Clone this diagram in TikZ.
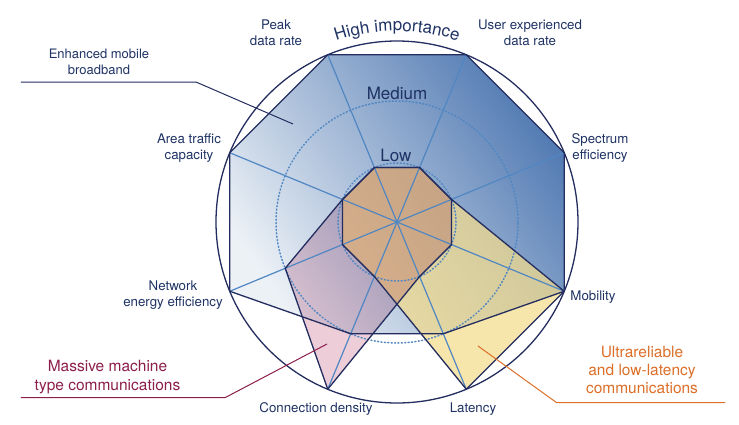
\documentclass[tikz,border=0pt]{standalone}
\usepackage{fontspec}
\setmainfont{TeX Gyre Heros}
\usepackage{xcolor}
\usepackage{tikz}
\usetikzlibrary{decorations.text}

\definecolor{navy}{RGB}{30,50,100}
\definecolor{edgeblue}{RGB}{35,45,95}
\definecolor{spokeblue}{RGB}{80,135,195}
\definecolor{embblight}{RGB}{236,241,246}
\definecolor{embbmid}{RGB}{165,188,216}
\definecolor{embbdark}{RGB}{84,124,180}
\definecolor{mmtcpink}{RGB}{236,205,216}
\definecolor{urllcyellow}{RGB}{244,220,140}
\definecolor{mmtcred}{RGB}{140,30,75}
\definecolor{urllcorange}{RGB}{220,110,40}

\newcommand{\hifont}{\fontsize{17}{17}\selectfont}
\newcommand{\embbshape}{(peakH) -- (userH) -- (specH) -- (mobH) -- (latM) -- (connM) -- (netH) -- (areaH) -- cycle}
\newcommand{\mmtcshape}{(peakL) -- (userL) -- (specL) -- (mobL) -- (latL) -- (connH) -- (netM) -- (areaL) -- cycle}
\newcommand{\urllcshape}{(peakL) -- (userL) -- (specL) -- (mobH) -- (latH) -- (connL) -- (netL) -- (areaL) -- cycle}

\begin{document}
\begin{tikzpicture}[
  x=1pt, y=1pt,
  outline/.style={draw=edgeblue, line width=1.3pt, line join=round},
  spoke/.style={draw=spokeblue, line width=1.2pt},
  levelring/.style={draw=spokeblue, line width=1.5pt, line cap=round, dash pattern=on 1pt off 2.4pt},
  axislabel/.style={font=\fontsize{13.3}{16.5}\selectfont, text=navy, align=center},
  levellabel/.style={font=\hifont, text=navy},
  servicelabel/.style={font=\fontsize{15.5}{18.3}\selectfont, align=center}
]
\useasboundingbox (-397,-202) rectangle (342,222);

\coordinate (o) at (0,0);
\foreach \n/\a in {spec/22.5, user/67.5, peak/112.5, area/157.5, net/202.5, conn/247.5, lat/292.5, mob/337.5} {
  \coordinate (\n H) at (\a:181pt);
  \coordinate (\n M) at (\a:121pt);
  \coordinate (\n L) at (\a:59pt);
}

% service areas
\shade[top color=embbdark, middle color=embbmid, bottom color=embblight, shading angle=-55] \embbshape;
\fill[urllcyellow, fill opacity=0.72] \urllcshape;
\begin{scope}[blend mode=multiply]
  \fill[mmtcpink] \mmtcshape;
\end{scope}

% importance levels
\draw[levelring] (o) circle (121pt);
\draw[levelring] (o) circle (59pt);
\foreach \n in {spec, user, peak, area, net, conn, lat, mob}
  \draw[spoke] (o) -- (\n H);

\draw[outline] \embbshape;
\draw[outline] \mmtcshape;
\draw[outline] \urllcshape;
\draw[outline] (o) circle (181pt);

\path[decorate, decoration={text along path, text align=center, text color=navy,
  text={|\hifont|High importance}}] (125:191pt) arc[start angle=125, end angle=55, radius=191pt];
\node[levellabel] (medium) at (0,129) {Medium};
\node[levellabel] (low) at (-1,67) {Low};

% axes
\node[axislabel] (peak) at (-121,189) {Peak\\data rate};
\node[axislabel] (user) at (133,189) {User experienced\\data rate};
\node[axislabel] (area) at (-208,74) {Area traffic\\capacity};
\node[axislabel] (spec) at (203,74) {Spectrum\\efficiency};
\node[axislabel] (net) at (-224,-73) {Network\\energy efficiency};
\node[axislabel] (mob) at (196,-75) {Mobility};
\node[axislabel] (conn) at (-81,-187) {Connection density};
\node[axislabel] (lat) at (76,-187) {Latency};

% usage scenarios
\node[axislabel, font=\fontsize{13}{16}\selectfont] (embb) at (-298,160) {Enhanced mobile\\broadband};
\coordinate (embbA) at (-376,140);
\coordinate (embbB) at (-201,140);
\coordinate (embbC) at (-104,98);
\draw[edgeblue, line width=1pt] (embbA) -- (embbB) -- (embbC);

\node[servicelabel, text=mmtcred] (mmtc) at (-289.5,-155) {Massive machine\\type communications};
\coordinate (mmtcA) at (-376,-175.7);
\coordinate (mmtcB) at (-172,-175.7);
\coordinate (mmtcC) at (-70,-122);
\draw[mmtcred, line width=1pt] (mmtcA) -- (mmtcB) -- (mmtcC);

\node[servicelabel, text=urllcorange] (urllc) at (245,-148) {Ultrareliable\\and low-latency\\communications};
\coordinate (urllcA) at (81,-124);
\coordinate (urllcB) at (159.7,-180.7);
\coordinate (urllcC) at (328,-180.7);
\draw[urllcorange, line width=1pt] (urllcA) -- (urllcB) -- (urllcC);
\end{tikzpicture}
\end{document}
